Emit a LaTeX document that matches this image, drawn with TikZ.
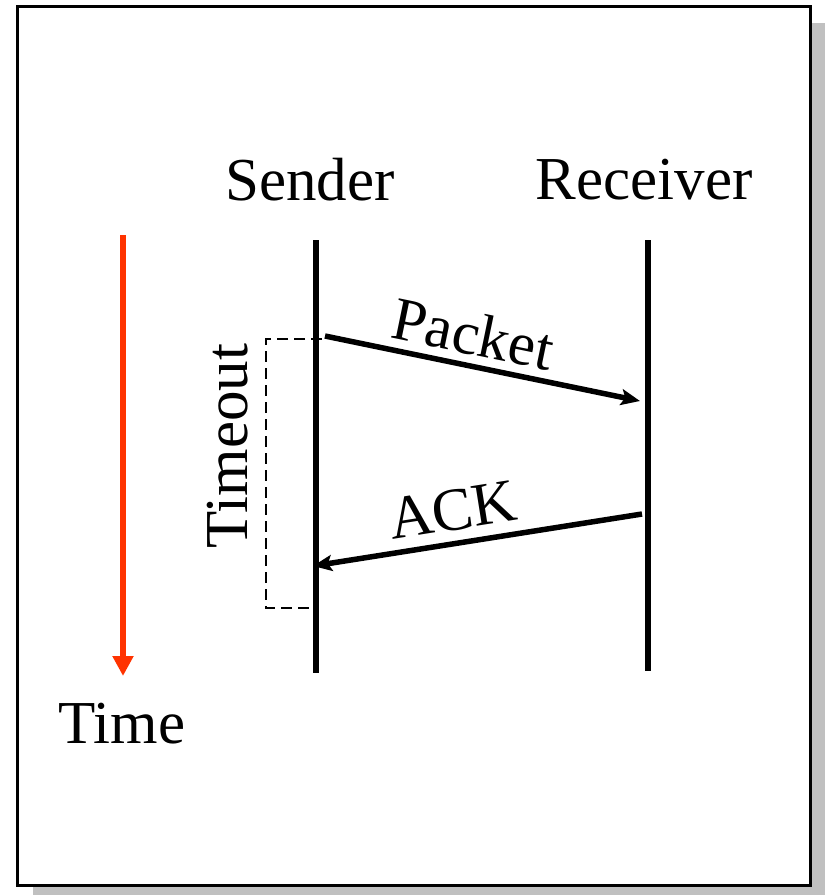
\documentclass[tikz,border=0pt]{standalone}
\usepackage{fontspec}
\setmainfont{Liberation Serif}
\usetikzlibrary{arrows.meta}
\definecolor{timered}{RGB}{255,51,0}
\definecolor{shadowgray}{RGB}{192,192,192}
\tikzset{
  lbl/.style={inner sep=0pt, font=\fontsize{61}{66}\selectfont},
  lifeline/.style={line width=5.5pt},
  msg/.style={line width=5.5pt, -{Stealth[length=19pt,width=16pt,inset=4pt]}},
}
\begin{document}
\begin{tikzpicture}[x=1pt,y=-1pt]
\useasboundingbox (0,0) rectangle (825,895);
\clip (0,0) rectangle (825,895);
% frame and shadow
\fill[shadowgray] (33,23) rectangle (830,900);
\draw[line width=3pt, fill=white] (17,6) rectangle (810,885);
% labels
\node[lbl](sender) at (310,180) {Sender};
\node[lbl](receiver) at (644,180) {Receiver};
\node[lbl](time) at (122,724) {Time};
% time arrow
\coordinate (t0) at (123,235);
\coordinate (t1) at (123,676);
\draw[timered, line width=5.5pt, -{Triangle[length=20pt,width=20pt]}] (t0) -- (t1);
% lifelines
\coordinate (s0) at (316,240);
\coordinate (s1) at (316,673);
\coordinate (r0) at (648,240);
\coordinate (r1) at (648,671);
\draw[lifeline] (s0) -- (s1);
\draw[lifeline] (r0) -- (r1);
% timeout
\coordinate (to0) at (322,339);
\coordinate (to1) at (312,608);
\draw[line width=2.5pt, dash pattern=on 11pt off 6pt] (to0) -| (266,608) -- (to1);
\node[lbl, rotate=90](timeout) at (228,446) {Timeout};
% messages
\coordinate (p0) at (325,336);
\coordinate (p1) at (640,401);
\coordinate (a0) at (642,514);
\coordinate (a1) at (313,566);
\draw[msg] (p0) -- node[lbl, sloped, above=8pt, pos=0.45](packet) {Packet} (p1);
\draw[msg] (a0) -- node[lbl, sloped, above=10pt, pos=0.56](ack) {ACK} (a1);
\end{tikzpicture}
\end{document}
